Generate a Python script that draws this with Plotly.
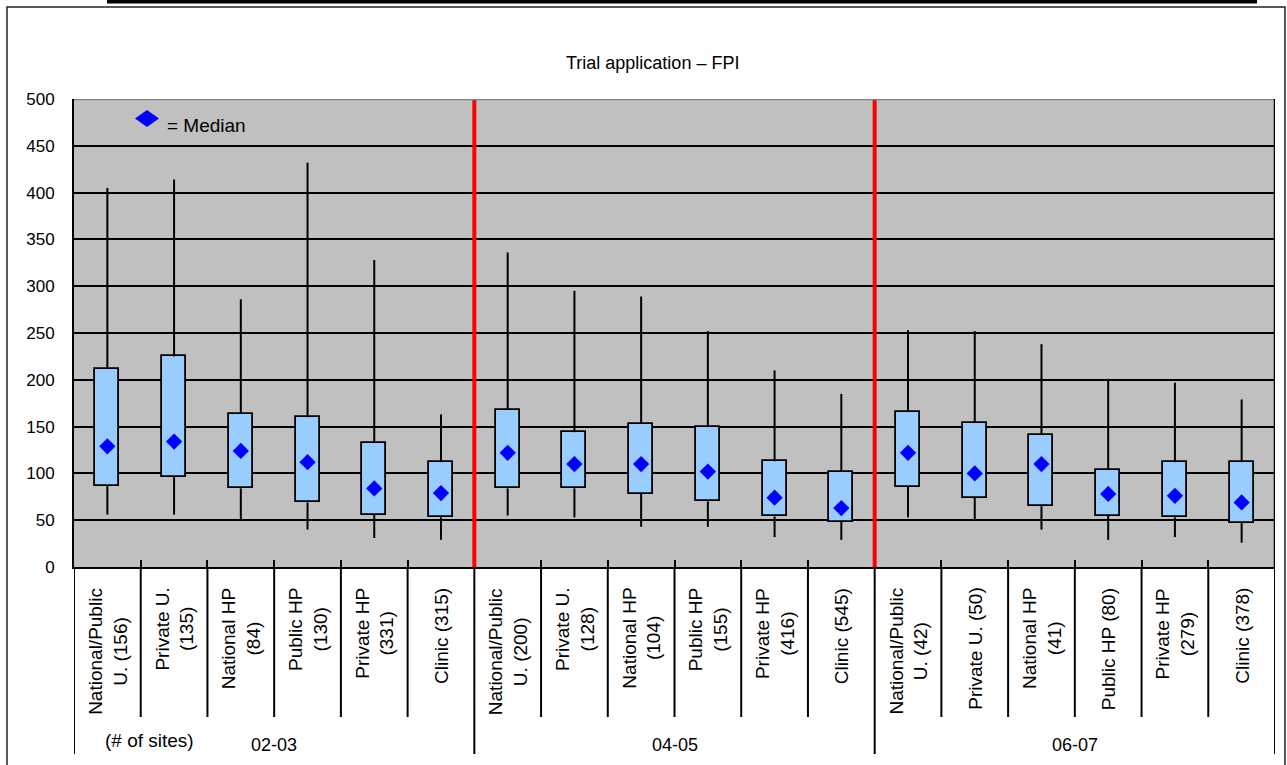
import plotly.graph_objects as go

# ---------------- data ----------------
categories = [
    "National/Public<br>U. (156)", "Private U.<br>(135)", "National HP<br>(84)",
    "Public HP<br>(130)", "Private HP<br>(331)", "Clinic (315)",
    "National/Public<br>U. (200)", "Private U.<br>(128)", "National HP<br>(104)",
    "Public HP<br>(155)", "Private HP<br>(416)", "Clinic (545)",
    "National/Public<br>U. (42)", "Private U. (50)", "National HP<br>(41)",
    "Public HP (80)", "Private HP<br>(279)", "Clinic (378)",
]
groups = ["02-03", "04-05", "06-07"]
whisker_max = [405, 414, 286, 432, 328, 163, 336, 295, 289, 252, 210, 185, 253, 252, 238, 201, 197, 179]
q3 = [212, 225, 164, 160, 133, 112, 168, 144, 153, 150, 113, 102, 166, 154, 141, 104, 112, 112]
median = [129, 134, 124, 112, 84, 79, 122, 110, 110, 102, 74, 63, 122, 100, 110, 78, 76, 69]
q1 = [87, 96, 84, 69, 56, 53, 84, 84, 78, 70, 54, 48, 86, 74, 65, 55, 53, 47]
whisker_min = [56, 56, 51, 40, 31, 29, 55, 53, 43, 43, 32, 29, 53, 50, 40, 29, 32, 26]
y_ticks = [0, 50, 100, 150, 200, 250, 300, 350, 400, 450, 500]

# ---------------- layout geometry ----------------
W, H = 1287, 765
L, R, T, B = 74, 1275, 99, 567
n = len(categories)
per_group = n // len(groups)
centers = [i + 0.5 for i in range(n)]


def px(x):
    return (x - L) / (R - L)


def py(y):
    return (B - y) / (B - T)


FONT = "Arial, Liberation Sans, sans-serif"

fig = go.Figure()

# whiskers
wx, wy = [], []
for c, lo, b1, b3, hi in zip(centers, whisker_min, q1, q3, whisker_max):
    wx += [c, c, None, c, c, None]
    wy += [b3, hi, None, b1, lo, None]
fig.add_trace(go.Scatter(x=wx, y=wy, mode="lines", line=dict(color="black", width=2),
                         hoverinfo="skip", showlegend=False))

# boxes
fig.add_trace(go.Bar(
    x=centers, base=q1, y=[b - a for a, b in zip(q1, q3)], width=0.36,
    marker=dict(color="#99CCFF", line=dict(color="black", width=1.8)),
    showlegend=False, hoverinfo="skip",
))

# medians
fig.add_trace(go.Scatter(
    x=centers, y=median, mode="markers", name="= Median",
    marker=dict(symbol="diamond", size=12.5, color="#0000FF", line=dict(width=0)),
    showlegend=False,
))

shapes = []
# red group dividers
for g in range(1, len(groups)):
    shapes.append(dict(type="line", xref="x", yref="y", x0=g * per_group, x1=g * per_group,
                       y0=0, y1=500, line=dict(color="#FF0000", width=4)))
# top (gray) and right (black) plot borders
shapes.append(dict(type="line", xref="x", yref="y", x0=0, x1=n, y0=500, y1=500,
                   line=dict(color="#808080", width=2.5)))
shapes.append(dict(type="line", xref="x", yref="y", x0=n, x1=n, y0=0, y1=500,
                   line=dict(color="black", width=2.5)))
# category separators below the axis
for i in range(n + 1):
    end = py(754) if i % per_group == 0 else py(717)
    shapes.append(dict(type="line", xref="x", yref="paper", x0=i, x1=i, y0=0, y1=end,
                       line=dict(color="black", width=2)))
# outer frame and top bar
shapes.append(dict(type="rect", xref="paper", yref="paper", x0=px(7), x1=px(1285),
                   y0=py(775), y1=py(7), line=dict(color="#222222", width=1.5)))
shapes.append(dict(type="rect", xref="paper", yref="paper", x0=px(107), x1=px(1257),
                   y0=py(3.5), y1=py(-2), fillcolor="black", line=dict(width=0)))
# legend key (wide diamond)
cx, cy, hw, hh = 147, 118.5, 12, 8.5
shapes.append(dict(type="path", xref="paper", yref="paper",
                   path=f"M {px(cx - hw)},{py(cy)} L {px(cx)},{py(cy - hh)} L {px(cx + hw)},{py(cy)} "
                        f"L {px(cx)},{py(cy + hh)} Z",
                   fillcolor="#0000FF", line=dict(width=0)))

annotations = []
annotations.append(dict(text="Trial application – FPI", xref="paper", yref="paper",
                        x=px(652), y=py(63), xanchor="center", yanchor="middle", showarrow=False,
                        font=dict(family=FONT, size=18, color="black")))
annotations.append(dict(text="= Median", xref="paper", yref="paper", x=px(165), y=py(125),
                        xanchor="left", yanchor="middle", showarrow=False,
                        font=dict(family=FONT, size=19, color="black")))
for c, lab in zip(centers, categories):
    annotations.append(dict(text=lab, xref="x", yref="paper", x=c, y=py(586),
                            xanchor="center", yanchor="top", textangle=-90, align="center",
                            showarrow=False, font=dict(family=FONT, size=19, color="black")))
for g, lab in enumerate(groups):
    annotations.append(dict(text=lab, xref="x", yref="paper", x=(g + 0.5) * per_group, y=py(745),
                            xanchor="center", yanchor="middle",
                            showarrow=False, font=dict(family=FONT, size=18, color="black")))
annotations.append(dict(text="(# of sites)", xref="paper", yref="paper", x=px(149), y=py(740),
                        xanchor="center", yanchor="middle",
                        showarrow=False, font=dict(family=FONT, size=19, color="black")))

fig.update_layout(
    width=W, height=H, autosize=False,
    margin=dict(l=L, r=W - R, t=T, b=H - B, pad=0),
    paper_bgcolor="white", plot_bgcolor="#C0C0C0",
    bargap=0, showlegend=False,
    shapes=shapes, annotations=annotations,
    xaxis=dict(range=[0, n], tickvals=list(range(n + 1)), showticklabels=False,
               ticks="inside", ticklen=7, tickwidth=2, tickcolor="black",
               showgrid=False, zeroline=False, showline=True, linecolor="black", linewidth=2,
               fixedrange=True),
    yaxis=dict(range=[0, 500], tickvals=y_ticks, ticks="inside", ticklen=4, tickwidth=2,
               tickcolor="black", showgrid=True, gridcolor="black", gridwidth=1.6,
               zeroline=False, showline=True, linecolor="black", linewidth=2,
               ticklabelstandoff=14,
               tickfont=dict(family=FONT, size=17, color="black"), fixedrange=True),
)

fig.write_html("out.html", config={"displayModeBar": False},
               post_script="document.body.style.margin='0';")
